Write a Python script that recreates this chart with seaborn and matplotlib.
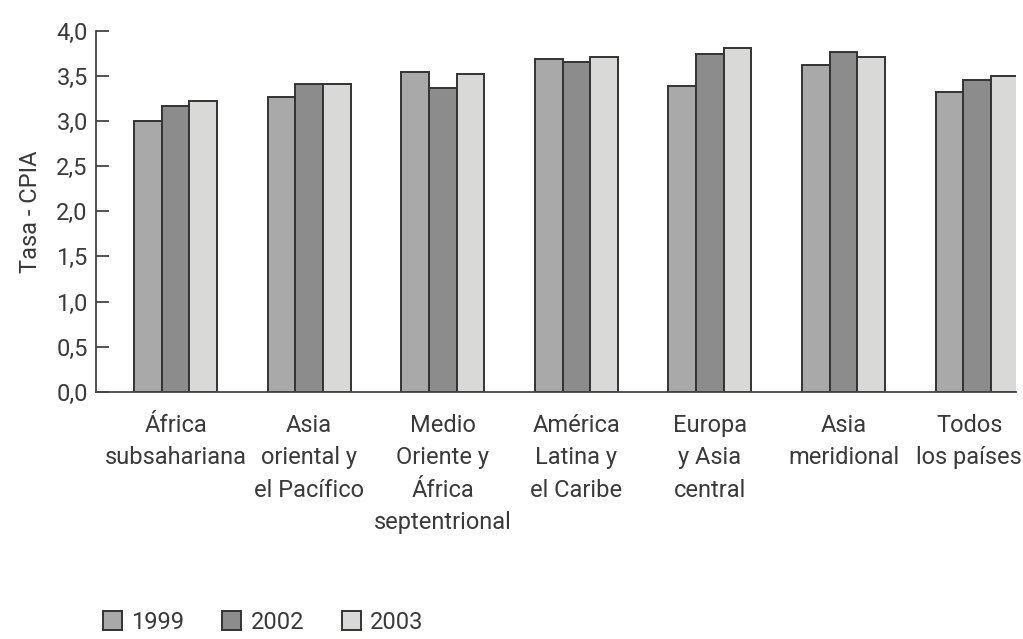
import matplotlib
matplotlib.use("Agg")
import matplotlib.pyplot as plt
import matplotlib.transforms as mtransforms
import seaborn as sns
import pandas as pd
from matplotlib.ticker import FuncFormatter, MultipleLocator

regions = ["África\nsubsahariana", "Asia\noriental y\nel Pacífico", "Medio\nOriente y\nÁfrica\nseptentrional",
           "América\nLatina y\nel Caribe", "Europa\ny Asia\ncentral", "Asia\nmeridional", "Todos\nlos países"]
years = ["1999", "2002", "2003"]
v1999 = [3.00, 3.27, 3.55, 3.69, 3.39, 3.62, 3.32]
v2002 = [3.17, 3.41, 3.37, 3.66, 3.74, 3.77, 3.46]
v2003 = [3.22, 3.41, 3.52, 3.71, 3.81, 3.71, 3.50]
colors = ["#a9a9a9", "#8c8c8c", "#d9d9d7"]

rows = []
for vals, y in zip([v1999, v2002, v2003], years):
    for r, v in zip(regions, vals):
        rows.append({"region": r, "year": y, "value": v})
df = pd.DataFrame(rows)

sns.set_style("white")
plt.rcParams['font.family'] = ['Roboto', 'DejaVu Sans']
plt.rcParams['text.color'] = '#3a3a3a'
FS = 17

fig = plt.figure(figsize=(10.23, 6.39), dpi=100)
ax = fig.add_axes([0.094, 0.387, 0.899, 0.5645])

sns.barplot(data=df, x="region", y="value", hue="year", order=regions, hue_order=years,
            palette=colors, width=0.62, gap=0, edgecolor="#333333", linewidth=1.4,
            saturation=1, ax=ax, legend=True)

ax.set_ylim(0, 4)
ax.set_xlim(-0.594, 6.29)
ax.yaxis.set_major_locator(MultipleLocator(0.5))
ax.yaxis.set_major_formatter(FuncFormatter(lambda v, p: f"{v:.1f}".replace(".", ",")))
ax.tick_params(axis='y', direction='in', length=9, width=1.3, color='#444444',
               labelsize=FS, labelcolor='#3a3a3a', pad=6, left=True)
ax.tick_params(axis='x', length=0, labelsize=FS, labelcolor='#3a3a3a', pad=16)
xlabels = ax.get_xticklabels()
for lbl in xlabels:
    lbl.set_linespacing(1.52)
xlabels[-1].set_transform(xlabels[-1].get_transform() +
                          mtransforms.ScaledTranslation(-8 / 100, 0, fig.dpi_scale_trans))
ax.set_xlabel("")
ax.set_ylabel("Tasa - CPIA", fontsize=FS, color='#3a3a3a', labelpad=10)
for s in ["top", "right"]:
    ax.spines[s].set_visible(False)
for s in ["left", "bottom"]:
    ax.spines[s].set_color("#444444")
    ax.spines[s].set_linewidth(1.3)

handles, labels = ax.get_legend_handles_labels()
ax.legend_.remove()
fig.legend(handles, labels, loc="lower left", bbox_to_anchor=(0.08, -0.025), ncol=3, frameon=False,
           fontsize=FS, handlelength=0.8, handleheight=0.8, handletextpad=0.4, columnspacing=1.6,
           labelcolor='#3a3a3a')

fig.savefig("out.png", dpi=100)
